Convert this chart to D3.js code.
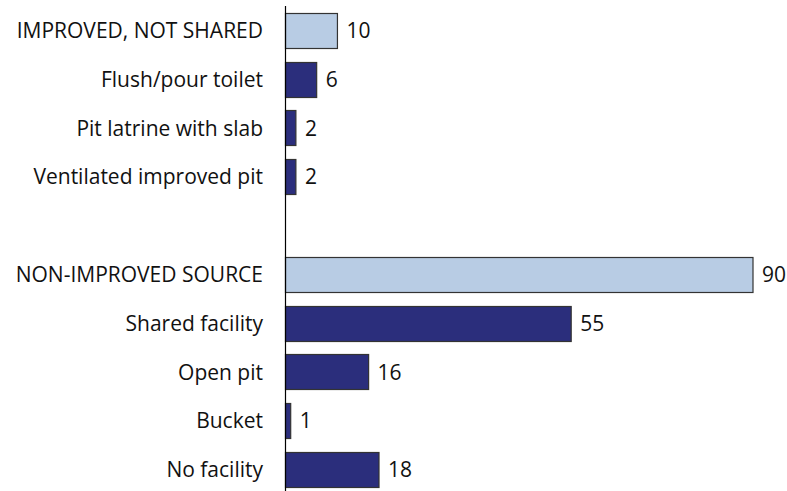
<!DOCTYPE html>
<html>
<head>
<meta charset="utf-8">
<script src="https://cdn.jsdelivr.net/npm/d3@7"></script>
<style>
  body { margin: 0; background: #fff; }
  svg text { font-family: "Open Sans", "Noto Sans", sans-serif; fill: #111; }
</style>
</head>
<body>
<svg id="chart" width="787" height="491"></svg>
<script>
// data
const categories = [
    "IMPROVED, NOT SHARED", "Flush/pour toilet", "Pit latrine with slab", "Ventilated improved pit",
    "",
    "NON-IMPROVED SOURCE", "Shared facility", "Open pit", "Bucket", "No facility"
];
const values = [10, 6, 2, 2, null, 90, 55, 16, 1, 18];
const isGroup = [true, false, false, false, false, true, false, false, false, false];

const svg = d3.select("svg#chart");
const axisX = 285.5;

const x = d3.scaleLinear().domain([0, 90]).range([axisX, 753]);
const y = d3.scaleBand()
    .domain(d3.range(categories.length))
    .range([6, 494])
    .paddingInner(0.28)
    .paddingOuter(0.14);

const rows = categories.map((c, i) => ({ label: c, value: values[i], group: isGroup[i], i }));

// bars
svg.append("g").selectAll("rect")
    .data(rows.filter(d => d.value !== null))
    .join("rect")
    .attr("x", axisX)
    .attr("y", d => Math.round(y(d.i)) + 0.5)
    .attr("width", d => x(d.value) - axisX)
    .attr("height", Math.round(y.bandwidth()))
    .attr("fill", d => d.group ? "#b8cce4" : "#2b2e7c")
    .attr("stroke", "#333")
    .attr("stroke-width", 1.2);

// axis line
svg.append("line")
    .attr("x1", axisX).attr("x2", axisX)
    .attr("y1", 6).attr("y2", 491)
    .attr("stroke", "#000")
    .attr("stroke-width", 1.2);

// category labels
svg.append("g").selectAll("text")
    .data(rows)
    .join("text")
    .attr("x", 263)
    .attr("y", d => y(d.i) + y.bandwidth() / 2)
    .attr("dy", "0.36em")
    .attr("text-anchor", "end")
    .attr("font-size", 21)
    .text(d => d.label);

// value labels
svg.append("g").selectAll("text")
    .data(rows.filter(d => d.value !== null))
    .join("text")
    .attr("x", d => x(d.value) + 9)
    .attr("y", d => y(d.i) + y.bandwidth() / 2)
    .attr("dy", "0.36em")
    .attr("font-size", 21)
    .text(d => d.value);
</script>
</body>
</html>
